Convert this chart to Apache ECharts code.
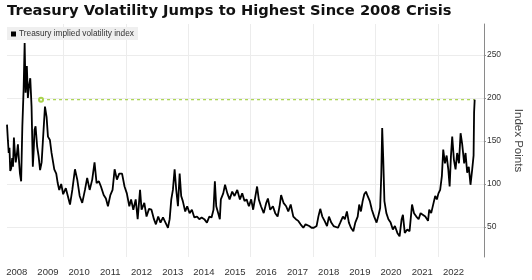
<!DOCTYPE html>
<html><head><meta charset="utf-8">
<script src="https://cdn.jsdelivr.net/npm/echarts@6/dist/echarts.min.js"></script>
<style>html,body{margin:0;padding:0;background:#fff}#c{width:532px;height:280px}</style>
</head><body><div id="c"></div>
<script>
const titleText = 'Treasury Volatility Jumps to Highest Since 2008 Crisis';
const seriesName = 'Treasury implied volatility index';
const yAxisName = 'Index Points';

const dates = [
'2008-03-10','2008-03-21','2008-03-30','2008-04-08','2008-04-17','2008-04-28','2008-05-10','2008-05-19','2008-05-30','2008-06-08',
'2008-06-20','2008-07-01','2008-07-16','2008-07-28','2008-08-09','2008-08-23','2008-09-06','2008-09-21','2008-10-03','2008-10-14',
'2008-10-29','2008-11-10','2008-11-22','2008-12-08','2008-12-23','2009-01-07','2009-01-18','2009-01-27','2009-02-08','2009-02-27',
'2009-03-16','2009-04-02','2009-04-20','2009-05-13','2009-05-29','2009-06-17','2009-07-03','2009-07-26','2009-08-14','2009-09-15',
'2009-10-08','2009-10-25','2009-11-12','2009-12-05','2009-12-28','2010-01-09','2010-01-28','2010-02-17','2010-03-18','2010-04-14',
'2010-05-15','2010-06-11','2010-07-09','2010-08-08','2010-09-09','2010-10-05','2010-11-03','2010-12-03','2010-12-30','2011-01-23',
'2011-02-19','2011-03-15','2011-04-16','2011-05-12','2011-06-05','2011-07-03','2011-07-29','2011-08-22','2011-09-18','2011-10-15',
'2011-11-17','2011-12-16','2012-01-12','2012-02-10','2012-03-02','2012-03-28','2012-04-25','2012-05-18','2012-06-15','2012-07-03',
'2012-08-04','2012-08-30','2012-09-28','2012-10-27','2012-11-25','2012-12-18','2013-01-14','2013-02-10','2013-03-11','2013-04-19',
'2013-05-08','2013-05-28','2013-06-16','2013-07-05','2013-07-25','2013-08-13','2013-09-02','2013-09-22','2013-10-10','2013-10-29',
'2013-11-26','2013-12-19','2014-01-16','2014-02-12','2014-03-13','2014-04-13','2014-05-10','2014-06-06','2014-07-07','2014-08-07',
'2014-09-04','2014-09-30','2014-10-23','2014-11-08','2014-11-24','2014-12-17','2015-01-05','2015-01-17','2015-02-14','2015-03-07',
'2015-04-03','2015-04-29','2015-05-30','2015-06-26','2015-07-28','2015-08-28','2015-09-24','2015-10-21','2015-11-14','2015-12-11',
'2016-01-07','2016-01-30','2016-02-26','2016-03-16','2016-04-05','2016-05-01','2016-06-02','2016-07-02','2016-07-21','2016-08-17',
'2016-09-18','2016-10-15','2016-11-12','2016-12-05','2016-12-23','2017-01-20','2017-02-20','2017-03-17','2017-04-14','2017-05-15',
'2017-06-14','2017-07-12','2017-08-08','2017-09-09','2017-10-05','2017-11-17','2017-12-14','2018-01-10','2018-02-11','2018-03-04',
'2018-03-26','2018-04-19','2018-05-16','2018-06-13','2018-07-06','2018-08-02','2018-08-29','2018-09-21','2018-10-19','2018-11-15',
'2018-12-16','2019-01-08','2019-02-01','2019-02-24','2019-03-20','2019-04-17','2019-05-10','2019-06-07','2019-06-25','2019-07-15',
'2019-08-04','2019-08-23','2019-09-12','2019-10-01','2019-10-27','2019-11-20','2019-12-17','2020-01-14','2020-02-07','2020-02-25',
'2020-03-09','2020-03-20','2020-04-01','2020-04-15','2020-05-08','2020-06-01','2020-06-27','2020-07-23','2020-08-16','2020-09-14',
'2020-10-10','2020-11-03','2020-11-18','2020-12-10','2021-01-08','2021-02-04','2021-03-05','2021-03-28','2021-04-24','2021-05-21',
'2021-06-13','2021-07-06','2021-08-07','2021-09-08','2021-09-22','2021-10-15','2021-11-12','2021-12-01','2021-12-20','2022-01-08',
'2022-01-28','2022-02-17','2022-03-05','2022-03-25','2022-04-14','2022-05-03','2022-05-19','2022-06-03','2022-06-18','2022-07-08',
'2022-07-27','2022-08-15','2022-09-05','2022-09-24','2022-10-12','2022-11-05','2022-11-21','2022-12-10','2022-12-29','2023-01-18',
'2023-02-07','2023-02-23','2023-03-01','2023-03-08'
];
const values = [
169,150,136,142,115,118,130,120,154,140,
125,132,146,128,112,103,167,210,264,206,
237,200,213,223,190,120,140,163,167,143,
132,116,125,125,190,178,155,151,136,117,
112,101,93,100,88,86,95,93,76,93,
117,105,86,78,93,107,93,105,125,101,
103,97,87,83,74,87,93,117,105,112,
112,97,89,74,82,70,82,59,93,70,
78,62,71,70,59,53,62,55,61,53,
49,59,82,93,117,93,74,112,86,80,
68,74,66,70,61,62,59,61,59,55,
62,61,70,103,74,66,59,82,89,99,
89,82,91,86,93,82,89,80,82,74,
82,70,86,97,82,74,66,78,83,70,
74,66,62,74,87,78,74,68,76,62,
59,57,53,49,53,51,49,49,51,62,
71,62,57,51,62,55,51,53,49,55,
62,59,68,55,49,45,55,62,76,68,
80,88,91,86,80,70,62,55,64,72,
110,165,130,80,66,59,55,47,51,43,
39,59,64,43,47,45,76,66,62,59,
66,68,62,57,70,66,78,86,82,89,
93,109,140,124,133,117,97,132,155,128,
117,136,124,159,147,124,136,113,120,99,
117,133,183,198
];

const axisStart = '2008-03-10';
const axisEnd = '2023-06-24';
const refLineStart = '2009-04-13';
const yMin = 15, yMax = 286;

function toYear(s) {
  const d = Date.parse(s + 'T00:00:00Z');
  const y = new Date(d).getUTCFullYear();
  const a = Date.UTC(y, 0, 1), b = Date.UTC(y + 1, 0, 1);
  return y + (d - a) / (b - a);
}

const seriesData = dates.map((d, i) => [toYear(d), values[i]]);
const xMin = toYear(axisStart), xMax = toYear(axisEnd);
const lastDate = dates[dates.length - 1];
const lastValue = values[values.length - 1];
const refColor = '#a9d34c';

const chart = echarts.init(document.getElementById('c'), null, {renderer: 'canvas'});
chart.setOption({
  animation: false,
  backgroundColor: '#ffffff',
  title: {
    text: titleText, left: 7, top: 4, padding: 0,
    textStyle: {fontFamily: 'DejaVu Sans', fontWeight: 'bold', fontSize: 14.7, color: '#111'}
  },
  legend: {
    data: [seriesName], left: 7, top: 27, padding: [3, 4, 2, 4],
    backgroundColor: '#efefef', icon: 'rect', itemWidth: 5, itemHeight: 5, itemGap: 3,
    textStyle: {fontFamily: 'Liberation Sans', fontSize: 8.3, color: '#333', padding: [0, 0, 0, -2]}
  },
  grid: {left: 7, right: 43, top: 24, bottom: 23, containLabel: false},
  xAxis: [
    {
      type: 'value', min: xMin, max: xMax, minInterval: 2, maxInterval: 2, position: 'bottom',
      axisLine: {show: false}, axisTick: {show: false}, axisLabel: {show: false},
      splitLine: {show: true, showMinLine: false, showMaxLine: false, lineStyle: {color: '#ececec', width: 1}}
    },
    {
      type: 'value', min: xMin - 0.5, max: xMax - 0.5, minInterval: 1, maxInterval: 1, position: 'bottom',
      axisLine: {show: false}, axisTick: {show: false}, splitLine: {show: false},
      axisLabel: {show: true, showMinLabel: false, showMaxLabel: false, margin: 10,
        fontFamily: 'Liberation Sans', fontSize: 9.5, color: '#333',
        formatter: v => String(Math.round(v))}
    }
  ],
  yAxis: {
    type: 'value', position: 'right', min: yMin, max: yMax, minInterval: 50, maxInterval: 50,
    name: yAxisName, nameLocation: 'middle', nameRotate: -90, nameGap: 24,
    nameTextStyle: {fontFamily: 'Liberation Sans', fontSize: 11.5, color: '#444'},
    axisLine: {show: true, lineStyle: {color: '#8a8a8a', width: 1}},
    axisTick: {show: true, length: 2, lineStyle: {color: '#8a8a8a'}},
    axisLabel: {show: true, showMinLabel: false, showMaxLabel: false, margin: 3,
      fontFamily: 'Liberation Sans', fontSize: 8.5, color: '#333'},
    splitLine: {show: true, showMinLine: false, showMaxLine: false, lineStyle: {color: '#ececec', width: 1}}
  },
  series: [
    {
      name: 'reference level', type: 'line', xAxisIndex: 0, yAxisIndex: 0, silent: true, z: 1,
      data: [
        {value: [toYear(refLineStart), lastValue], symbol: 'emptyCircle', symbolSize: 4},
        {value: [toYear(lastDate), lastValue], symbol: 'none'}
      ],
      showSymbol: true, showAllSymbol: true,
      lineStyle: {color: refColor, width: 1.2, type: [3, 3]},
      itemStyle: {color: refColor, borderColor: refColor, borderWidth: 1}
    },
    {
      name: seriesName, type: 'line', xAxisIndex: 0, yAxisIndex: 0, z: 2,
      data: seriesData, showSymbol: false, symbol: 'none',
      lineStyle: {color: '#000', width: 1.8}, itemStyle: {color: '#000'}
    }
  ]
});
</script>
</body></html>
